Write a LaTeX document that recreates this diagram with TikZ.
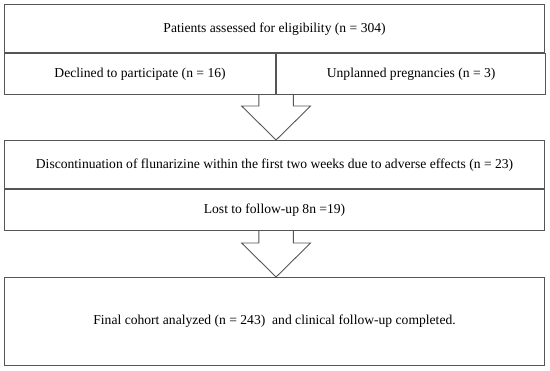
\documentclass[tikz,border=0pt]{standalone}
\usepackage{fontspec}
\setmainfont{Liberation Serif}
\usetikzlibrary{positioning,calc}
\definecolor{framegray}{RGB}{85,85,85}
\tikzset{
 cell/.style={draw=framegray,line width=1.1pt,rectangle,inner sep=0pt,anchor=north west,
   font=\fontsize{13.6}{16}\selectfont,text=black},
 blockline/.style={draw=framegray,line width=0.9pt,line join=miter}
}
\newcommand{\blockarrow}[2]{%
 \draw[blockline] ($(#1)+(-17.2,0)$) -- ($(#2)+(-17.2,34)$) -- ($(#2)+(-34.5,34)$) -- (#2)
   -- ($(#2)+(34.5,34)$) -- ($(#2)+(17.2,34)$) -- ($(#1)+(17.2,0)$);}
\begin{document}
\begin{tikzpicture}[x=1pt,y=1pt]
 \useasboundingbox (0,0) rectangle (550,371);
 \node[cell,minimum width=540pt,minimum height=48.3pt] (elig) at (4,367) {Patients assessed for eligibility (n = 304)};
 \node[cell,minimum width=271pt,minimum height=40.7pt] (declined) at (elig.south west) {Declined to participate (n = 16)};
 \node[cell,minimum width=269pt,minimum height=40.7pt] (pregnant) at (declined.north east) {Unplanned pregnancies (n = 3)};
 \node[cell,minimum width=540pt,minimum height=48.3pt] (discont) at (4,231) {Discontinuation of flunarizine within the first two weeks due to adverse effects (n = 23)};
 \node[cell,minimum width=540pt,minimum height=40.7pt] (lost) at (discont.south west) {Lost to follow-up 8n =19)};
 \node[cell,minimum width=540pt,minimum height=88pt] (final) at (4,94) {Final cohort analyzed (n = 243)\ \ and clinical follow-up completed.};
 \coordinate (top1) at (declined.south east);
 \coordinate (tip1) at (discont.north -| top1);
 \coordinate (top2) at (lost.south -| top1);
 \coordinate (tip2) at (final.north -| top1);
 \blockarrow{top1}{tip1}
 \blockarrow{top2}{tip2}
\end{tikzpicture}
\end{document}
